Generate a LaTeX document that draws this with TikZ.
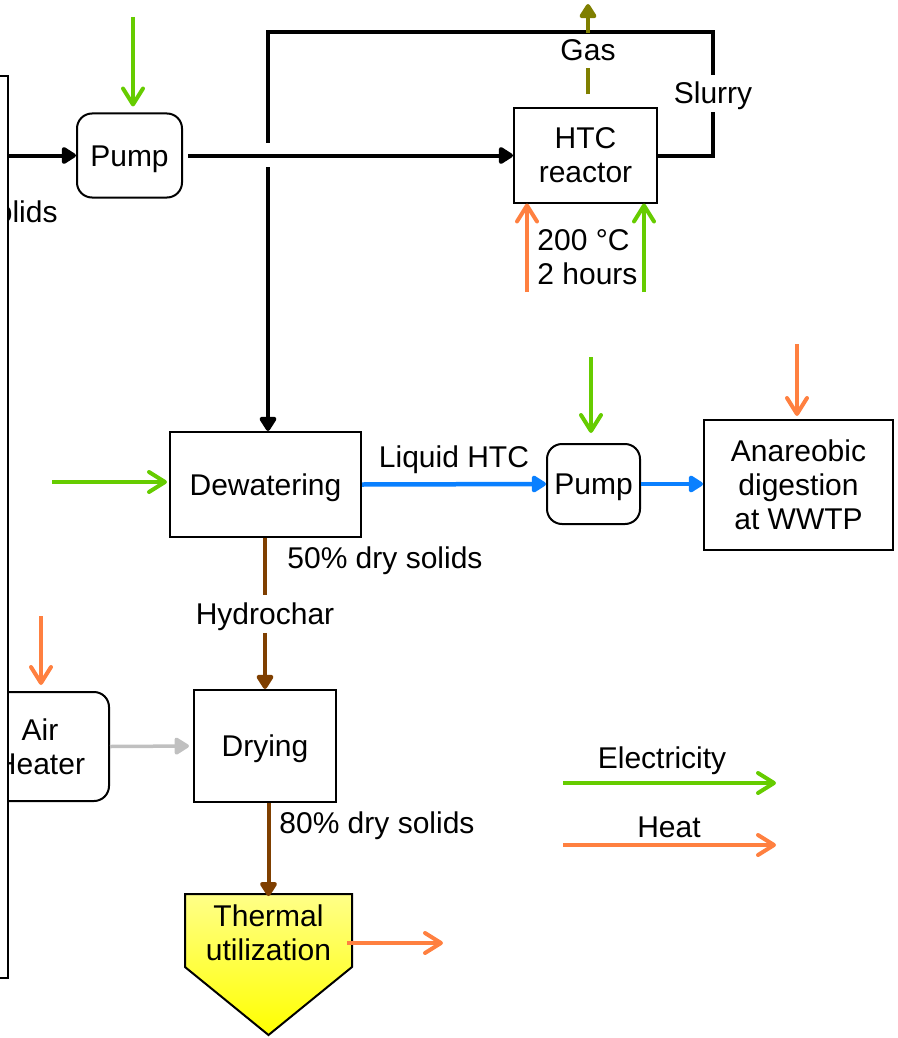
\documentclass[tikz,border=0pt]{standalone}
\usepackage{fontspec}
\setmainfont{Liberation Sans}
\usetikzlibrary{arrows.meta,positioning}
\definecolor{elec}{HTML}{66CC00}
\definecolor{heat}{HTML}{FF8040}
\definecolor{liquid}{HTML}{0A80FF}
\definecolor{char}{HTML}{7F3F00}
\definecolor{offgas}{HTML}{7F7F00}
\definecolor{hotair}{HTML}{C0C0C0}
\definecolor{fuel}{HTML}{FFFF00}
\definecolor{fuelpale}{HTML}{FFFF88}

\begin{document}
\begin{tikzpicture}[x=0.5pt,y=-0.5pt,font=\fontsize{15}{17}\selectfont,
 oneline/.style={text height=13.5pt,text depth=3pt},
 unit/.style={draw,line width=1pt,align=center,inner sep=0pt},
 pumpbox/.style={unit,rounded corners=7.5pt},
 flow/.style={line width=2pt},
 flowtip/.style={-{Triangle[length=8pt,width=9.5pt,round]}},
 energy/.style={line width=2pt,-{Straight Barb[length=8pt,width=10pt,round]}}]
\useasboundingbox (0,0) rectangle (898,1038);
\clip (0,0) rectangle (898,1038);
% units
\node[pumpbox,oneline,minimum width=52.5pt,minimum height=42pt] (pumpA) at (129.5,155.5) {Pump};
\node[unit,minimum width=71.5pt,minimum height=47pt] (htc) at (585.5,155.5) {HTC\\reactor};
\node[unit,oneline,minimum width=95.5pt,minimum height=52.5pt] (dew) at (265.5,484.5) {Dewatering};
\node[pumpbox,oneline,minimum width=46.5pt,minimum height=40pt] (pumpB) at (593.5,484) {Pump};
\node[unit,minimum width=94.5pt,minimum height=65pt] (ad) at (798.5,485) {Anareobic\\digestion\\at WWTP};
\node[unit,oneline,minimum width=71pt,minimum height=56pt] (dry) at (265,746) {Drying};
\node[pumpbox,minimum width=69pt,minimum height=54.5pt] (heater) at (40,746.5) {Air\\Heater};
\shade[draw,line width=1pt,top color=fuelpale,bottom color=fuel] (185,894) -- (352,894) -- (352,967) -- (268.5,1035) -- (185,967) -- cycle;
\node[minimum width=83.5pt,minimum height=36.5pt,inner sep=0pt,align=center] (therm) at (268.5,933) {Thermal\\utilization};
% sludge source (cut at the edge)
\node[anchor=base east,inner sep=0pt] (feedlbl) at (58,222) {solids};
\draw[line width=0.75pt,fill=white] (-20,76) rectangle (8,978);
\coordinate (feed) at (8,155.5);
\draw[flow,flowtip] (feed) -- (pumpA.west);
\draw[flow,flowtip,shorten <=2.5pt] (pumpA.east) -- (htc.west);
% slurry loop back to dewatering
\node[oneline,inner xsep=0pt,inner ysep=1pt] (slurry) at (713,93.5) {Slurry};
\coordinate (loopL) at (268,32);
\coordinate (jumpA) at (268,143);
\coordinate (jumpB) at (268,167);
\draw[flow] (htc.east) -| (slurry.south);
\draw[flow] (slurry.north) |- (loopL) -- (jumpA);
\draw[flow,flowtip] (jumpB) -- (jumpB |- dew.north);
% gas
\node[oneline,inner xsep=0pt,inner ysep=0.5pt] (gas) at (588,50.5) {Gas};
\coordinate (gasout) at (588,4);
\draw[flow,offgas,shorten <=6.5pt] (htc.north -| gas) -- (gas.south);
\draw[flow,offgas,flowtip] (gas.north) -- (gasout);
% reactor inputs
\coordinate (heatR) at (527,292);
\coordinate (elecR) at (644,292);
\draw[energy,heat] (heatR) -- (heatR |- htc.south);
\draw[energy,elec] (elecR) -- (elecR |- htc.south);
\node[anchor=west,align=left,inner sep=0pt] (cond) at (537,257) {200 °C\\2 hours};
\coordinate (elecA) at (133,17);
\draw[energy,elec,shorten >=3pt] (elecA) -- (elecA |- pumpA.north);
% liquid line
\coordinate (elecD) at (52,482);
\draw[energy,elec,shorten >=1pt] (elecD) -- (elecD -| dew.west);
\draw[flow,liquid,flowtip,line width=2.25pt] (dew.east) -- node[above=4.25pt,oneline,inner sep=0pt,text=black] (liq) {Liquid HTC} (pumpB.west);
\coordinate (elecB) at (591,357);
\draw[energy,elec,shorten >=5pt] (elecB) -- (elecB |- pumpB.north);
\draw[flow,liquid,flowtip,line width=2.25pt] (pumpB.east) -- (pumpB.east -| ad.west);
\coordinate (heatD) at (797,344);
\draw[energy,heat,shorten >=1.5pt] (heatD) -- (heatD |- ad.north);
% hydrochar line
\node[oneline,inner xsep=0pt,inner ysep=1pt] (hydro) at (265,614) {Hydrochar};
\draw[flow,char] (dew.south -| hydro) -- (hydro.north);
\draw[flow,char,flowtip] (hydro.south) -- (dry.north);
\node[anchor=base west,inner sep=0pt] (ds50) at (287,568) {50\% dry solids};
\draw[flow,char,flowtip] (dry.south -| therm) -- (therm.north);
\node[anchor=base west,inner sep=0pt] (ds80) at (279,833) {80\% dry solids};
\coordinate (heatH) at (41,616);
\draw[energy,heat,shorten >=3pt] (heatH) -- (heatH |- heater.north);
\draw[flow,hotair,flowtip,line width=1.75pt,shorten >=2pt] (heater.east) -- (dry.west);
\coordinate (thermin) at (347,943);
\coordinate (thermout) at (443,943);
\draw[energy,heat] (thermin) -- (thermout);
% legend
\node[oneline] (elecKey) at (662,758) {Electricity};
\coordinate (elecK1) at (563,783);
\coordinate (elecK2) at (776,783);
\draw[energy,elec] (elecK1) -- (elecK2);
\node[oneline] (heatKey) at (669,827) {Heat};
\coordinate (heatK1) at (563,845);
\coordinate (heatK2) at (776,845);
\draw[energy,heat] (heatK1) -- (heatK2);
\end{tikzpicture}
\end{document}
